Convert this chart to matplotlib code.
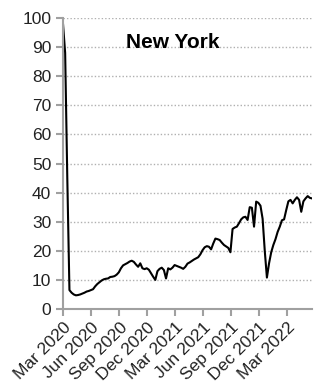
import matplotlib
matplotlib.use('Agg')
import matplotlib.pyplot as plt
import matplotlib.dates as mdates
import pandas as pd

# weekly index values
start_date = '2020-03-01'
values = [
    98, 88, 45, 6.5, 5.6, 5.0, 4.7, 4.8, 5.0, 5.3,
    5.6, 6.0, 6.2, 6.5, 6.8, 7.8, 8.6, 9.2, 9.8, 10.2,
    10.4, 10.5, 11.0, 11.1, 11.3, 11.8, 12.6, 14.0, 15.0, 15.4,
    15.8, 16.3, 16.6, 16.2, 15.3, 14.5, 15.7, 14.0, 13.7, 14.0,
    13.5, 12.3, 11.1, 10.0, 13.0, 13.8, 14.2, 13.4, 10.5, 14.0,
    13.6, 14.2, 15.1, 14.8, 14.5, 14.2, 13.8, 14.5, 15.6, 16.0,
    16.5, 17.0, 17.4, 17.8, 18.8, 20.2, 21.2, 21.6, 21.4, 20.5,
    22.5, 24.2, 24.0, 23.7, 22.8, 22.0, 21.5, 21.0, 19.5, 27.5,
    28.0, 28.3, 29.5, 30.8, 31.5, 31.7, 30.6, 35.0, 34.8, 28.3,
    36.9, 36.5, 35.5, 31.0, 20.0, 10.8, 15.7, 19.5, 22.0, 24.0,
    26.5, 28.3, 30.5, 30.8, 34.0, 37.0, 37.5, 36.3, 37.5, 38.4,
    37.5, 33.4, 37.0, 38.0, 38.8, 38.2, 38.0,
]
dates = pd.date_range(start_date, periods=len(values), freq='7D')

tick_dates = pd.date_range('2020-03-01', '2022-03-01', freq='3MS')
tick_labels = [d.strftime('%b %Y') for d in tick_dates]

title = 'New York'

plt.rcParams['font.family'] = ['Liberation Sans', 'DejaVu Sans']

fig = plt.figure(figsize=(3.19, 3.84), dpi=100)
ax = fig.add_axes([0.1975, 0.1953, 0.7805, 0.7578])

ax.plot(dates, values, color='black', lw=1.5)

ax.set_ylim(0, 100)
ax.set_yticks(range(0, 101, 10))
ax.set_xlim(dates[0], dates[-1])
ax.set_xticks(tick_dates)
ax.set_xticklabels(tick_labels, rotation=45, ha='right', rotation_mode='anchor')

ax.grid(axis='y', color='#b0b0b0', linestyle=(0, (1, 1.5)), lw=1)
ax.set_axisbelow(True)
for s in ['top', 'right']:
    ax.spines[s].set_visible(False)
for s in ['left', 'bottom']:
    ax.spines[s].set_color('#a0a0a0')
    ax.spines[s].set_linewidth(1.5)
ax.tick_params(axis='both', colors='#a0a0a0', width=1.5, length=5,
               labelcolor='#222222', labelsize=12.5)
ax.tick_params(axis='x', pad=3)

ax.text(0.44, 0.915, title, transform=ax.transAxes, ha='center', va='center',
        fontsize=15, fontweight='bold')

fig.savefig('out.png', dpi=100)
